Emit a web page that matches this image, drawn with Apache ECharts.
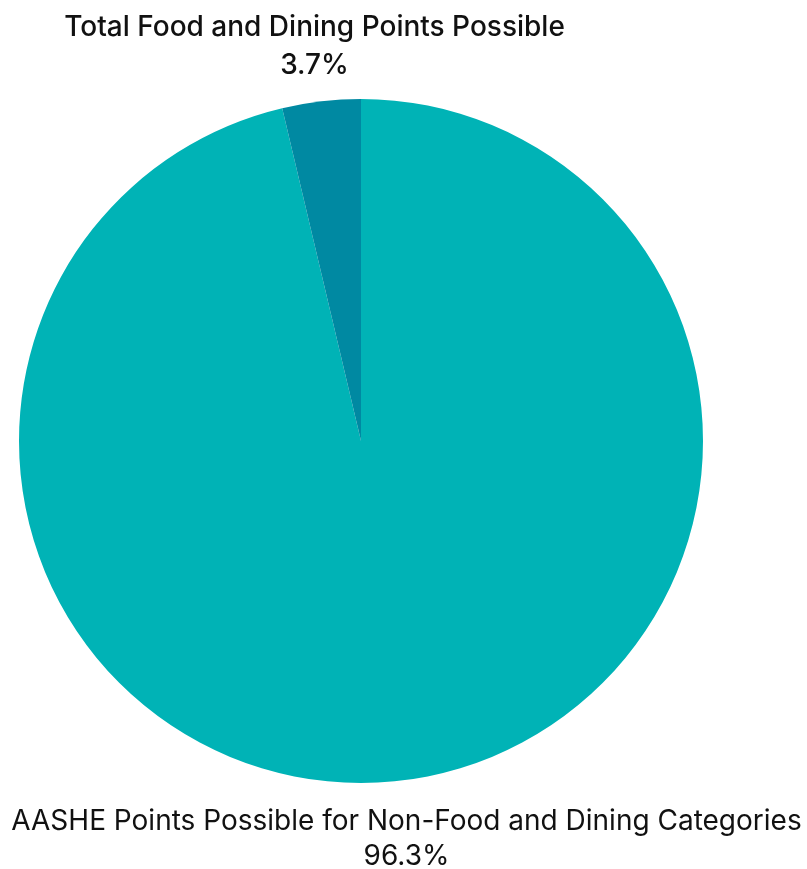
<!DOCTYPE html>
<html><head><meta charset="utf-8">
<script src="https://cdn.jsdelivr.net/npm/echarts@6/dist/echarts.min.js"></script>
<style>html,body{margin:0;padding:0;background:#fff}#c{width:807px;height:869px}</style>
</head><body><div id="c"></div>
<script>
const categories = ["AASHE Points Possible for Non-Food and Dining Categories", "Total Food and Dining Points Possible"];
const values = [96.3, 3.7];
const colors = ["#00B3B6", "#0089A2"];
const labelPos = [
  {x: 406.5, y: 839, lh: 35, fs: 28, fw: 400},
  {x: 314.5, y: 47, lh: 38, fs: 28, fw: 500}
];
const chart = echarts.init(document.getElementById('c'), null, {renderer: 'canvas'});
chart.setOption({
  animation: false,
  series: [{
    type: 'pie',
    center: [361, 441],
    radius: 342,
    startAngle: 90,
    clockwise: true,
    data: categories.map((n, i) => ({name: n, value: values[i], itemStyle: {color: colors[i]},
      label: {lineHeight: labelPos[i].lh, fontSize: labelPos[i].fs, fontWeight: labelPos[i].fw}})),
    label: {
      show: true,
      position: 'outside',
      formatter: p => p.name + '\n' + p.value.toFixed(1) + '%',
      fontFamily: 'Inter',
      color: '#111',
      align: 'center',
      overflow: 'none',
      width: 900
    },
    labelLine: {show: false},
    labelLayout: p => ({x: labelPos[p.dataIndex].x, y: labelPos[p.dataIndex].y, align: 'center', verticalAlign: 'middle', width: 900})
  }]
});
</script></body></html>
